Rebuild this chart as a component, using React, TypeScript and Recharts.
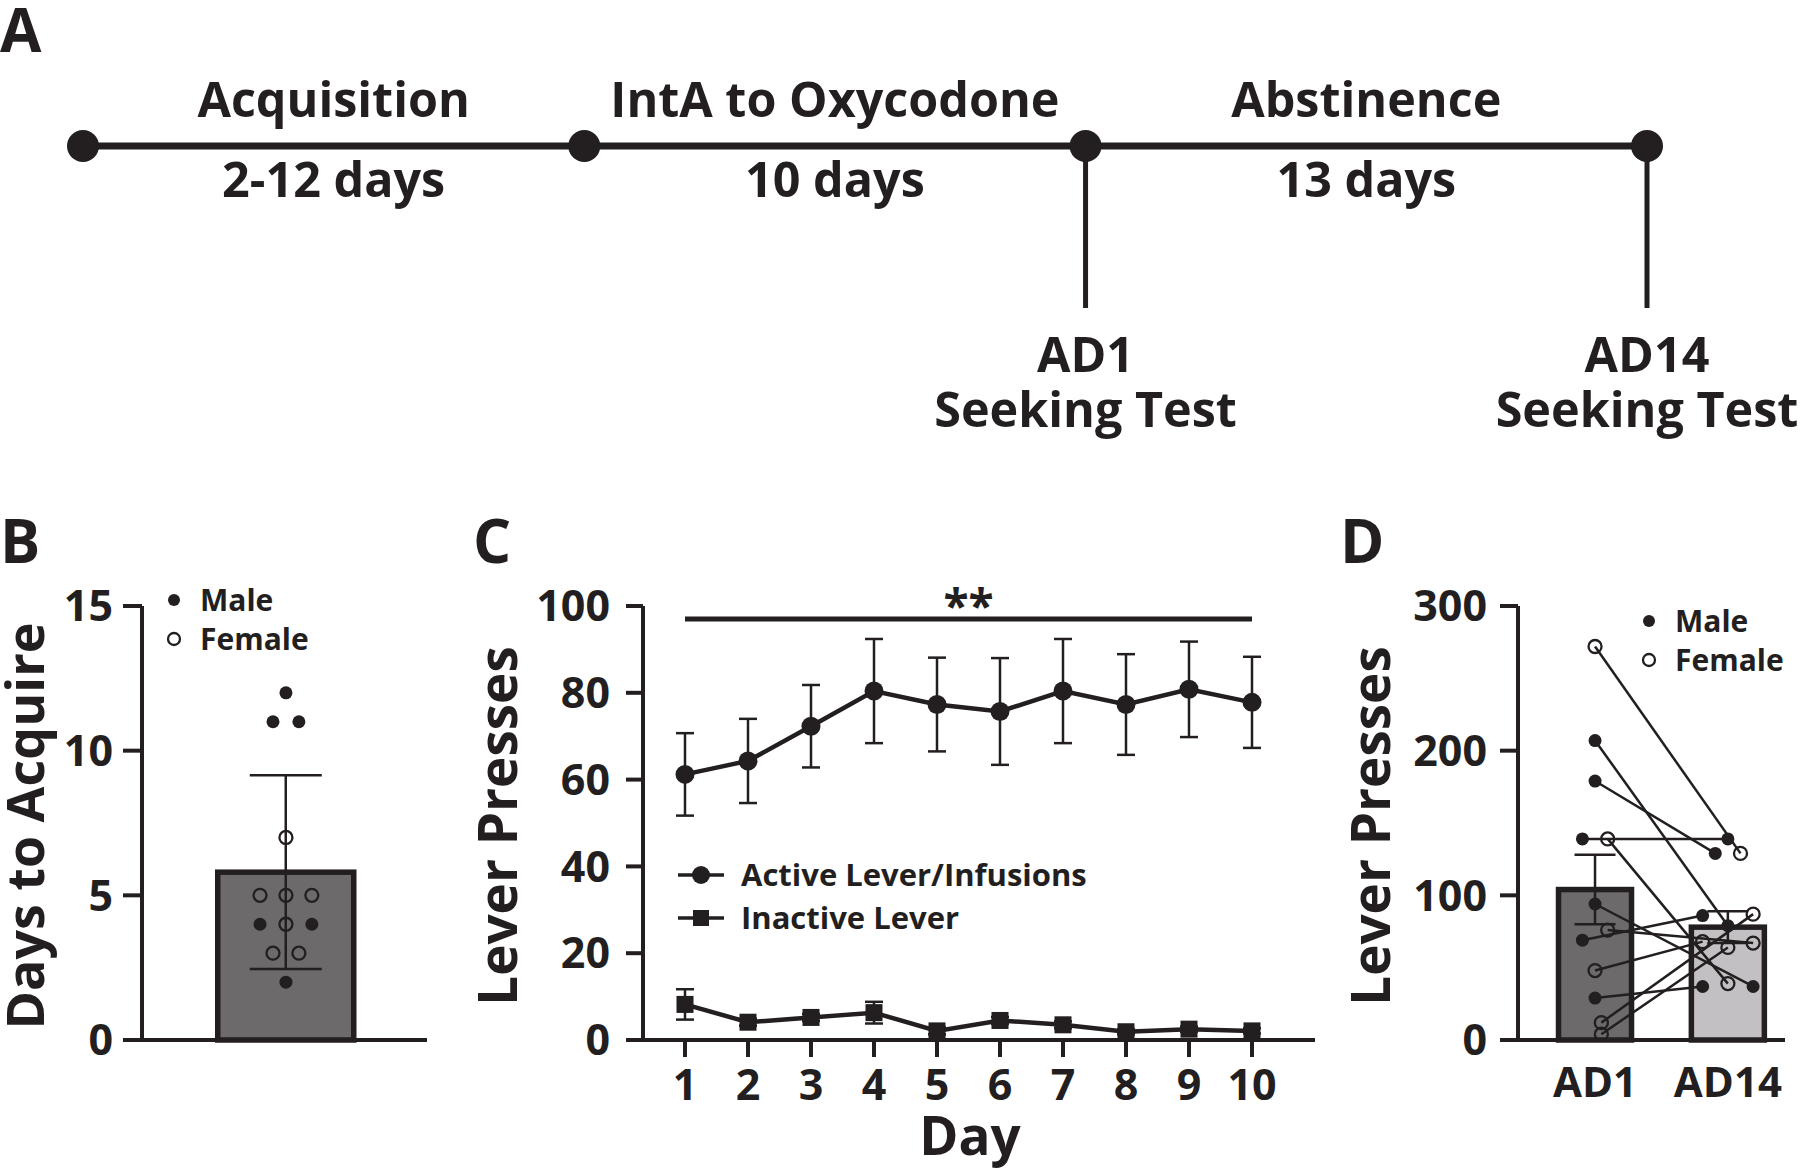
import React from 'react';
import {
  ComposedChart,
  Line,
  Bar,
  Scatter,
  XAxis,
  YAxis,
  ErrorBar,
  ReferenceLine,
  Legend,
  Cell,
  Label,
} from 'recharts';

const INK = '#231f20';
const FONT = "'Open Sans', 'Noto Sans', sans-serif";

// ---- Panel A: timeline ----
const timelineNodes = [
  { pos: 0, y: 0 },
  { pos: 1, y: 0 },
  { pos: 2, y: 0 },
  { pos: 3.12, y: 0 },
];
const phaseNames = ['Acquisition', 'IntA to Oxycodone', 'Abstinence'];
const phaseDurations = ['2-12 days', '10 days', '13 days'];
const testNames = ['AD1', 'AD14'];
const testNodeIndex = [2, 3];

// ---- Panel B: days to acquire ----
const bMean = 5.8;
const bSd = 3.35;
const bMale = [12, 11, 11, 4, 4, 2];
const bMaleJitter = [0, -1, 1, -2, 2, 0];
const bFemale = [7, 5, 5, 5, 4, 3, 3];
const bFemaleJitter = [0, -2, 0, 2, 0, -1, 1];

// ---- Panel C: lever presses across IntA days ----
const days = [1, 2, 3, 4, 5, 6, 7, 8, 9, 10];
const activeMean = [61.2, 64.3, 72.3, 80.4, 77.3, 75.7, 80.4, 77.3, 80.8, 77.8];
const activeSem = [9.5, 9.7, 9.5, 12, 10.8, 12.3, 12, 11.6, 11, 10.5];
const inactiveMean = [8.2, 4.1, 5.2, 6.3, 2.1, 4.5, 3.5, 1.9, 2.5, 2.1];
const inactiveSem = [3.5, 0.8, 0.8, 2.5, 0.8, 0.8, 0.8, 0.6, 0.6, 0.6];
const sigRange = [1, 10];
const sigLevel = 97;

// ---- Panel D: seeking tests ----
const dLabels = ['AD1', 'AD14'];
const dMean = [104, 78];
const dSem = [24, 11];
const dFills = ['#6d6a6b', '#c2c0c2'];
const dSex = ['F', 'M', 'M', 'M', 'F', 'M', 'F', 'M', 'F', 'M', 'F', 'F'];
const dAd1 = [272, 207, 179, 139, 139, 94, 76, 69, 48, 29, 12, 4];
const dAd14 = [129, 79, 129, 139, 39, 37, 67, 86, 68, 37, 87, 64];
const dAd1Jitter = [0, 0, 0, -1, 1, 0, 1, -1, 0, 0, 0.5, 0.5];
const dAd14Jitter = [1, 0, -1, 0, 0, 2, 2, -2, -2, -2, 2, 0];

const sexLegend = [
  { name: 'Male', filled: true },
  { name: 'Female', filled: false },
];

const axisStroke = { stroke: INK, strokeWidth: 4 };
const tickStyle = { fill: INK, fontSize: 43, fontWeight: 700 };
const A_FONT = 48.5;

function Dot({ cx, cy, filled, r = 6.5 }: any) {
  if (cx == null || cy == null) return null;
  return filled ? (
    <circle cx={cx} cy={cy} r={r} fill={INK} />
  ) : (
    <circle cx={cx} cy={cy} r={r} fill="none" stroke={INK} strokeWidth={2.3} />
  );
}

// keeps the bar centred on its value but with a fixed width
function FixedBar({ x, y, width, height, fill, barWidth }: any) {
  if (x == null || y == null) return null;
  const cx = x + width / 2;
  return (
    <rect
      x={cx - barWidth / 2}
      y={y}
      width={barWidth}
      height={height}
      fill={fill}
      stroke={INK}
      strokeWidth={5.5}
    />
  );
}

function VerticalTitle({ viewBox, value, baselineX, dy = 0, size = 53 }: any) {
  if (!viewBox) return null;
  const cy = viewBox.y + viewBox.height / 2 + dy;
  return (
    <text
      x={baselineX}
      y={cy}
      transform={`rotate(-90 ${baselineX} ${cy})`}
      textAnchor="middle"
      fill={INK}
      fontSize={size}
      fontWeight={700}
    >
      {value}
    </text>
  );
}

function SexLegend() {
  return (
    <svg width={170} height={80}>
      {sexLegend.map((item, i) => (
        <g key={item.name}>
          <Dot cx={14} cy={20 + i * 39} filled={item.filled} r={6} />
          <text x={40} y={20 + i * 39} dy="0.357em" fontSize={30} fontWeight={700} fill={INK}>
            {item.name}
          </text>
        </g>
      ))}
    </svg>
  );
}

function LeverLegend() {
  const rows = [
    { name: 'Active Lever/Infusions', marker: 'circle' },
    { name: 'Inactive Lever', marker: 'square' },
  ];
  return (
    <svg width={430} height={95}>
      {rows.map((row, i) => {
        const y = 25 + i * 43;
        return (
          <g key={row.name}>
            <line x1={8} x2={54} y1={y} y2={y} stroke={INK} strokeWidth={3.5} />
            {row.marker === 'circle' ? (
              <circle cx={31} cy={y} r={9} fill={INK} />
            ) : (
              <rect x={23} y={y - 8} width={16} height={16} fill={INK} />
            )}
            <text x={71} y={y} dy="0.357em" fontSize={31} fontWeight={700} fill={INK}>
              {row.name}
            </text>
          </g>
        );
      })}
    </svg>
  );
}

function PanelA() {
  const phaseData = phaseNames.map((name, i) => ({
    pos: (timelineNodes[i].pos + timelineNodes[i + 1].pos) / 2,
    y: 0,
    name,
    duration: phaseDurations[i],
  }));
  const testData = testNames.map((name, i) => ({
    pos: timelineNodes[testNodeIndex[i]].pos,
    y: -1,
    name,
  }));
  return (
    <div style={{ position: 'absolute', left: 0, top: 0 }}>
      <ComposedChart
        width={1800}
        height={460}
        data={timelineNodes}
        margin={{ top: 146, right: 153, bottom: 152, left: 83 }}
      >
        <XAxis type="number" dataKey="pos" domain={[0, 3.12]} hide />
        <YAxis type="number" dataKey="y" domain={[-1, 0]} hide />
        {testData.map((t) => (
          <ReferenceLine
            key={t.name}
            segment={[
              { x: t.pos, y: 0 },
              { x: t.pos, y: -1 },
            ]}
            stroke={INK}
            strokeWidth={5}
          />
        ))}
        <Line
          dataKey="y"
          stroke={INK}
          strokeWidth={7}
          isAnimationActive={false}
          dot={(p: any) => <circle key={p.index} cx={p.cx} cy={p.cy} r={16} fill={INK} />}
          activeDot={false}
        />
        <Scatter
          data={phaseData}
          isAnimationActive={false}
          shape={(p: any) => (
            <g>
              <text x={p.cx} y={p.cy - 29} textAnchor="middle" fontSize={A_FONT} fontWeight={700} fill={INK}>
                {p.payload.name}
              </text>
              <text x={p.cx} y={p.cy + 51} textAnchor="middle" fontSize={A_FONT} fontWeight={700} fill={INK}>
                {p.payload.duration}
              </text>
            </g>
          )}
        />
        <Scatter
          data={testData}
          isAnimationActive={false}
          shape={(p: any) => (
            <g>
              <text x={p.cx} y={p.cy + 64} textAnchor="middle" fontSize={A_FONT} fontWeight={700} fill={INK}>
                {p.payload.name}
              </text>
              <text x={p.cx} y={p.cy + 119} textAnchor="middle" fontSize={A_FONT} fontWeight={700} fill={INK}>
                Seeking Test
              </text>
            </g>
          )}
        />
      </ComposedChart>
    </div>
  );
}

function PanelB() {
  const summary = [{ x: 1, y: bMean, err: bSd }];
  const males = bMale.map((v, i) => ({ x: 1 + bMaleJitter[i] * 0.09, y: v }));
  const females = bFemale.map((v, i) => ({ x: 1 + bFemaleJitter[i] * 0.09, y: v }));
  return (
    <div style={{ position: 'absolute', left: 0, top: 540 }}>
      <ComposedChart width={440} height={540} data={summary} margin={{ top: 66, right: 13, bottom: 0, left: 0 }}>
        <XAxis
          type="number"
          dataKey="x"
          domain={[0, 1.98]}
          tickCount={2}
          tick={false}
          tickLine={false}
          axisLine={axisStroke}
          height={40}
        />
        <YAxis
          type="number"
          dataKey="y"
          domain={[0, 15]}
          ticks={[0, 5, 10, 15]}
          width={142}
          tickSize={19}
          tickMargin={10}
          axisLine={axisStroke}
          tickLine={axisStroke}
          tick={tickStyle}
        >
          <Label
            content={(p: any) => (
              <VerticalTitle {...p} value="Days to Acquire" baselineX={44} dy={3} size={52} />
            )}
          />
        </YAxis>
        <Bar
          dataKey="y"
          fill="#6d6a6b"
          isAnimationActive={false}
          shape={(p: any) => <FixedBar {...p} barWidth={136} />}
        >
          <ErrorBar dataKey="err" width={36} stroke={INK} strokeWidth={2.5} />
        </Bar>
        <Scatter data={males} isAnimationActive={false} shape={(p: any) => <Dot {...p} filled />} />
        <Scatter data={females} isAnimationActive={false} shape={(p: any) => <Dot {...p} filled={false} />} />
        <Legend
          content={<SexLegend />}
          layout="vertical"
          align="center"
          verticalAlign="middle"
          wrapperStyle={{ left: 160, top: 40, width: 170, height: 80 }}
        />
      </ComposedChart>
    </div>
  );
}

function PanelC() {
  const data = days.map((d, i) => ({
    day: d,
    active: activeMean[i],
    activeErr: activeSem[i],
    inactive: inactiveMean[i],
    inactiveErr: inactiveSem[i],
  }));
  return (
    <div style={{ position: 'absolute', left: 440, top: 560 }}>
      <ComposedChart width={900} height={612} data={data} margin={{ top: 46, right: 25, bottom: 0, left: 0 }}>
        <XAxis
          type="number"
          dataKey="day"
          domain={[1 / 3, 11]}
          ticks={days}
          interval={0}
          height={132}
          tickSize={17}
          tickMargin={12}
          axisLine={axisStroke}
          tickLine={axisStroke}
          tick={tickStyle}
        >
          <Label
            content={(p: any) =>
              p.viewBox ? (
                <text
                  x={p.viewBox.x + p.viewBox.width / 2 - 9}
                  y={p.viewBox.y + 115}
                  textAnchor="middle"
                  fontSize={53}
                  fontWeight={700}
                  fill={INK}
                >
                  Day
                </text>
              ) : null
            }
          />
        </XAxis>
        <YAxis
          type="number"
          domain={[0, 100]}
          ticks={[0, 20, 40, 60, 80, 100]}
          width={203}
          tickSize={17}
          tickMargin={16}
          axisLine={axisStroke}
          tickLine={axisStroke}
          tick={tickStyle}
        >
          <Label content={(p: any) => <VerticalTitle {...p} value="Lever Presses" baselineX={77} dy={3} />} />
        </YAxis>
        <ReferenceLine
          segment={[
            { x: sigRange[0], y: sigLevel },
            { x: sigRange[1], y: sigLevel },
          ]}
          stroke={INK}
          strokeWidth={5}
          label={{ value: '**', position: 'top', offset: -4, fill: INK, fontSize: 46, fontWeight: 700 }}
        />
        <Line
          dataKey="active"
          stroke={INK}
          strokeWidth={4.5}
          isAnimationActive={false}
          activeDot={false}
          dot={(p: any) => <circle key={p.index} cx={p.cx} cy={p.cy} r={9.5} fill={INK} />}
        >
          <ErrorBar dataKey="activeErr" width={9} stroke={INK} strokeWidth={2.5} />
        </Line>
        <Line
          dataKey="inactive"
          stroke={INK}
          strokeWidth={4.5}
          isAnimationActive={false}
          activeDot={false}
          dot={(p: any) => <rect key={p.index} x={p.cx - 8.5} y={p.cy - 8.5} width={17} height={17} fill={INK} />}
        >
          <ErrorBar dataKey="inactiveErr" width={9} stroke={INK} strokeWidth={2.5} />
        </Line>
        <Legend
          content={<LeverLegend />}
          layout="vertical"
          align="center"
          verticalAlign="middle"
          wrapperStyle={{ left: 230, top: 290, width: 430, height: 95 }}
        />
      </ComposedChart>
    </div>
  );
}

function PanelD() {
  const summary = dLabels.map((name, i) => ({ x: i + 1, y: dMean[i], err: dSem[i], name }));
  const subjects = dAd1.map((v, i) => ({
    sex: dSex[i],
    points: [
      { x: 1 + dAd1Jitter[i] * 0.095, y: v },
      { x: 2 + dAd14Jitter[i] * 0.095, y: dAd14[i] },
    ],
  }));
  return (
    <div style={{ position: 'absolute', left: 1320, top: 560 }}>
      <ComposedChart width={480} height={612} data={summary} margin={{ top: 46, right: 15, bottom: 0, left: 0 }}>
        <XAxis
          type="number"
          dataKey="x"
          domain={[0.42, 2.43]}
          ticks={[1, 2]}
          tickCount={2}
          interval={0}
          tickFormatter={(v: number) => dLabels[v - 1]}
          height={132}
          tickSize={17}
          tickMargin={10}
          axisLine={axisStroke}
          tickLine={false}
          tick={{ ...tickStyle, fontSize: 42 }}
        />
        <YAxis
          type="number"
          dataKey="y"
          domain={[0, 300]}
          ticks={[0, 100, 200, 300]}
          width={198}
          tickSize={18}
          tickMargin={13}
          axisLine={axisStroke}
          tickLine={axisStroke}
          tick={tickStyle}
        >
          <Label content={(p: any) => <VerticalTitle {...p} value="Lever Presses" baselineX={70} dy={3} />} />
        </YAxis>
        <Bar
          dataKey="y"
          isAnimationActive={false}
          shape={(p: any) => <FixedBar {...p} barWidth={73} />}
        >
          {summary.map((s, i) => (
            <Cell key={s.name} fill={dFills[i]} />
          ))}
          <ErrorBar dataKey="err" width={20.5} stroke={INK} strokeWidth={2.5} />
        </Bar>
        {subjects.map((s, i) => (
          <Scatter
            key={i}
            data={s.points}
            line={{ stroke: INK, strokeWidth: 2.5 }}
            isAnimationActive={false}
            shape={(p: any) => <Dot {...p} filled={s.sex === 'M'} />}
          />
        ))}
        <Legend
          content={<SexLegend />}
          layout="vertical"
          align="center"
          verticalAlign="middle"
          wrapperStyle={{ left: 315, top: 41, width: 170, height: 80 }}
        />
      </ComposedChart>
    </div>
  );
}

const panelLetters = [
  { id: 'A', x: 0, y: 52 },
  { id: 'B', x: 0, y: 563 },
  { id: 'C', x: 473, y: 563 },
  { id: 'D', x: 1340, y: 563 },
];

export default function App() {
  return (
    <div
      style={{
        position: 'absolute',
        left: 0,
        top: 0,
        width: 1800,
        height: 1172,
        background: '#fff',
        fontFamily: FONT,
        overflow: 'hidden',
      }}
    >
      <PanelA />
      <PanelB />
      <PanelC />
      <PanelD />
      <svg
        width={1800}
        height={1172}
        style={{ position: 'absolute', left: 0, top: 0, pointerEvents: 'none' }}
      >
        {panelLetters.map((l) => (
          <text key={l.id} x={l.x} y={l.y} fontSize={60} fontWeight={700} fill={INK}>
            {l.id}
          </text>
        ))}
      </svg>
    </div>
  );
}
